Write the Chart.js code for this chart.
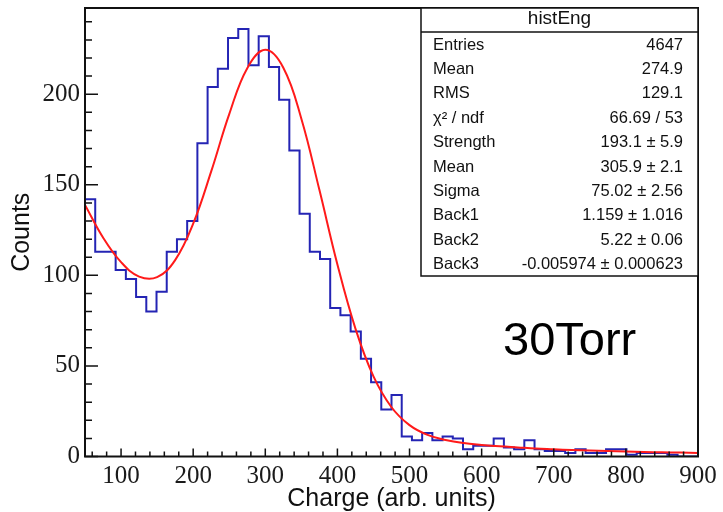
<!DOCTYPE html>
<html>
<head>
<meta charset="utf-8">
<script src="https://cdn.jsdelivr.net/npm/chart.js@4.4.0/dist/chart.umd.min.js"></script>
<style>
  html, body { margin: 0; padding: 0; background: #fff; }
  #wrap { width: 723px; height: 512px; }
</style>
</head>
<body>
<div id="wrap"><canvas id="chart"></canvas></div>
<script>
const chart = document.getElementById("chart");

// histogram range and contents (60 bins)
const xMin = 50;
const xMax = 900;
const yMax = 247.6;
const binCounts = [
  145, 142, 113, 113, 103, 98, 88, 80, 91, 113,
  120, 130, 173, 204, 214, 231, 236, 216, 232, 215,
  197, 169, 134, 113, 109, 82, 78, 69, 54, 41,
  26, 34, 11, 9, 13, 9, 11, 10, 4, 6,
  6, 10, 5, 4, 9, 4, 3, 3, 2, 4,
  2, 2, 4, 4, 1, 2, 2, 2, 1, 0,
];

// fitted curve (gaus + exp background), sampled every 25
const fitX = [
  50, 75, 100, 125, 150, 175, 200, 225, 250, 275, 300, 325,
  350, 375, 400, 425, 450, 475, 500, 525, 550, 575, 600, 625,
  650, 675, 700, 725, 750, 775, 800, 825, 850, 875, 900,
];
const fitY = [
  138.9, 120.9, 107.3, 99.3, 99.0, 108.4, 128.5, 157.4, 189.0, 214.4, 224.5, 214.6,
  186.5, 147.2, 106.0, 70.6, 44.2, 27.2, 17.3, 11.9, 9.1, 7.4, 6.4, 5.6,
  5.0, 4.4, 4.0, 3.6, 3.3, 3.0, 2.7, 2.5, 2.3, 2.2, 2.0,
];

const xTicks = [100, 200, 300, 400, 500, 600, 700, 800, 900];
const yTicks = [0, 50, 100, 150, 200];

const histName = "histEng";
const statNames = ["Entries", "Mean", "RMS", "\u03c7\u00b2 / ndf", "Strength", "Mean", "Sigma", "Back1", "Back2", "Back3"];
const statValues = ["4647", "274.9", "129.1", "66.69 / 53", "193.1 \u00b1 5.9", "305.9 \u00b1 2.1",
  "75.02 \u00b1 2.56", "1.159 \u00b1 1.016", "5.22 \u00b1 0.06", "-0.005974 \u00b1 0.000623"];
const runLabel = "30Torr";

// outline of the histogram: up from the baseline, one step per bin, back down
const binWidth = (xMax - xMin) / binCounts.length;
const histPoints = [{ x: xMin, y: 0 }];
binCounts.forEach((c, i) => histPoints.push({ x: xMin + i * binWidth, y: c }));
histPoints.push({ x: xMax, y: binCounts[binCounts.length - 1] });
histPoints.push({ x: xMax, y: 0 });

const fitPoints = fitX.map((x, i) => ({ x: x, y: fitY[i] }));

const serif = "'Liberation Serif', 'Times New Roman', serif";
const sans = "'Liberation Sans', Arial, sans-serif";

// frame, inward ticks, stats box and run label
const decorations = {
  id: "decorations",
  afterDraw(c) {
    const { ctx, chartArea: a, scales } = c;
    const sx = scales.x;
    const sy = scales.y;
    ctx.save();
    ctx.strokeStyle = "#111";
    ctx.lineWidth = 1.5;

    ctx.beginPath();
    for (let v = 0; v <= yMax; v += 10) {
      const py = sy.getPixelForValue(v);
      const len = v % 50 === 0 ? 13 : 7;
      ctx.moveTo(a.left, py);
      ctx.lineTo(a.left + len, py);
    }
    for (let v = 60; v <= xMax; v += 20) {
      const px = sx.getPixelForValue(v);
      const len = v % 100 === 0 ? 8 : 5;
      ctx.moveTo(px, a.bottom);
      ctx.lineTo(px, a.bottom - len);
    }
    ctx.stroke();

    ctx.lineWidth = 2;
    ctx.strokeRect(a.left, a.top, a.right - a.left, a.bottom - a.top);

    // stats box
    const bx = 421, by = a.top, bw = a.right - 421, bh = 268;
    ctx.fillStyle = "#fff";
    ctx.fillRect(bx, by, bw, bh);
    ctx.lineWidth = 1.5;
    ctx.strokeRect(bx, by, bw, bh);
    ctx.beginPath();
    ctx.moveTo(bx, by + 24);
    ctx.lineTo(bx + bw, by + 24);
    ctx.stroke();

    ctx.fillStyle = "#111";
    ctx.textBaseline = "middle";
    ctx.textAlign = "center";
    ctx.font = "19px " + sans;
    ctx.fillText(histName, bx + bw / 2, by + 11);

    ctx.font = "16.5px " + sans;
    statNames.forEach((name, i) => {
      const ty = 45 + i * 24.4;
      ctx.textAlign = "left";
      ctx.fillText(name, 433, ty);
      ctx.textAlign = "right";
      ctx.fillText(statValues[i], 683, ty);
    });

    ctx.textAlign = "left";
    ctx.textBaseline = "alphabetic";
    ctx.fillStyle = "#000";
    ctx.font = "47px " + sans;
    ctx.fillText(runLabel, 503, 355);
    ctx.restore();
  },
};

new Chart(chart, {
  type: "line",
  data: {
    datasets: [
      {
        label: "fit",
        data: fitPoints,
        borderColor: "#ff1a1a",
        borderWidth: 2,
        pointRadius: 0,
        tension: 0.4,
        order: 0,
      },
      {
        label: histName,
        data: histPoints,
        borderColor: "#2424b4",
        borderWidth: 2,
        pointRadius: 0,
        stepped: "after",
        order: 1,
      },
    ],
  },
  options: {
    responsive: true,
    maintainAspectRatio: false,
    animation: false,
    layout: { padding: { top: 8, right: 25, left: 0, bottom: 0 } },
    plugins: {
      legend: { display: false },
      tooltip: { enabled: false },
    },
    scales: {
      x: {
        type: "linear",
        min: xMin,
        max: xMax,
        afterBuildTicks: (s) => { s.ticks = xTicks.map((v) => ({ value: v })); },
        afterFit: (s) => { s.height = 55.5; s.paddingLeft = 0; s.paddingRight = 0; },
        grid: { display: false, drawTicks: false },
        border: { display: false },
        ticks: {
          padding: 5,
          color: "#1a1a1a",
          font: { family: serif, size: 25 },
          maxRotation: 0,
        },
        title: {
          display: true,
          text: "Charge (arb. units)",
          color: "#111",
          font: { family: sans, size: 25, lineHeight: 1 },
          padding: { top: 0, bottom: 0 },
        },
      },
      y: {
        min: 0,
        max: yMax,
        afterBuildTicks: (s) => { s.ticks = yTicks.map((v) => ({ value: v })); },
        afterFit: (s) => { s.width = 85; s.paddingTop = 0; s.paddingBottom = 0; },
        grid: { display: false, drawTicks: false },
        border: { display: false },
        ticks: {
          padding: 5,
          color: "#1a1a1a",
          font: { family: serif, size: 25 },
        },
        title: {
          display: true,
          text: "Counts",
          color: "#111",
          font: { family: sans, size: 25, lineHeight: 1 },
          padding: { top: 10, bottom: 0 },
        },
      },
    },
  },
  plugins: [decorations],
});
</script>
</body>
</html>
